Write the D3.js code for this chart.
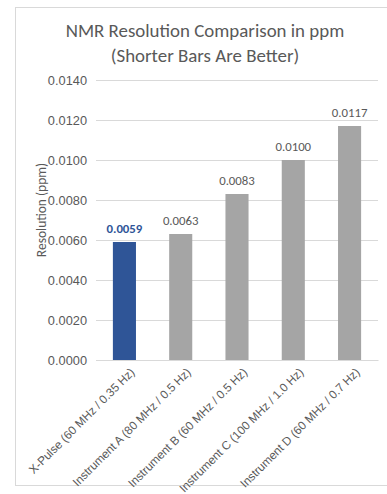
<!DOCTYPE html>
<html><head><meta charset="utf-8">
<script src="https://cdn.jsdelivr.net/npm/d3@7"></script>
<style>body{margin:0;background:#fff;font-family:Calibri,Carlito,"Open Sans","Liberation Sans",sans-serif;}</style>
</head><body>
<script>
const categories = ["X-Pulse (60 MHz / 0.35 Hz)","Instrument A (80 MHz / 0.5 Hz)","Instrument B (60 MHz / 0.5 Hz)","Instrument C (100 MHz / 1.0 Hz)","Instrument D (60 MHz / 0.7 Hz)"];
const values = [0.0059, 0.0063, 0.0083, 0.0100, 0.0117];
const yTicks = [0,0.002,0.004,0.006,0.008,0.010,0.012,0.014];
const titleLines = ["NMR Resolution Comparison in ppm","(Shorter Bars Are Better)"];
const yTitle = "Resolution (ppm)";

const W=387,H=494;
const svg=d3.select("body").append("svg").attr("width",W).attr("height",H);
svg.append("rect").attr("x",15.5).attr("y",7.5).attr("width",W).attr("height",H-16).attr("fill","#fff").attr("stroke","#d9d9d9");

const x=d3.scaleBand().domain(categories).range([96,378]).paddingInner(0.59).paddingOuter(0.3);
const y=d3.scaleLinear().domain([0,0.014]).range([360,80]);

svg.append("g").selectAll("line").data(yTicks).join("line")
 .attr("x1",96).attr("x2",378).attr("y1",d=>Math.round(y(d))+0.5).attr("y2",d=>Math.round(y(d))+0.5)
 .attr("stroke","#d9d9d9").attr("stroke-width",1);

const ya=svg.append("g").attr("transform","translate(96,0)").call(d3.axisLeft(y).tickValues(yTicks).tickFormat(d3.format(".4f")).tickSize(0).tickPadding(9));
ya.select(".domain").remove();
ya.selectAll("text").attr("fill","#595959").style("font-size","12.8px").style("font-family","inherit");

svg.append("g").selectAll("rect").data(values).join("rect")
 .attr("x",(d,i)=>x(categories[i])).attr("width",x.bandwidth())
 .attr("y",d=>y(d)).attr("height",d=>y(0)-y(d))
 .attr("fill",(d,i)=>i===0?"#2F5597":"#A5A5A5");

svg.append("g").selectAll("text").data(values).join("text")
 .attr("x",(d,i)=>x(categories[i])+x.bandwidth()/2).attr("y",d=>y(d)-9)
 .attr("text-anchor","middle").style("font-size","12.8px")
 .attr("fill",(d,i)=>i===0?"#2F5597":"#595959").attr("font-weight",(d,i)=>i===0?"bold":"normal")
 .text(d=>d3.format(".4f")(d));

const xa=svg.append("g").attr("transform","translate(0,360)").call(d3.axisBottom(x).tickSize(0).tickPadding(0));
xa.select(".domain").attr("stroke","#d9d9d9");
xa.selectAll("text").attr("fill","#595959").style("font-size","11.8px").style("font-family","inherit")
 .attr("text-anchor","end").attr("transform","translate(8,10) rotate(-45)").attr("dy","0.35em");

svg.append("text").attr("transform","translate(46,210) rotate(-90)").attr("text-anchor","middle")
 .attr("fill","#595959").style("font-size","13.5px").text(yTitle);

svg.append("g").selectAll("text").data(titleLines).join("text")
 .attr("x",205).attr("y",(d,i)=>37+i*25).attr("text-anchor","middle").attr("fill","#595959")
 .style("font-size","18.9px").text(d=>d);
</script>
</body></html>
